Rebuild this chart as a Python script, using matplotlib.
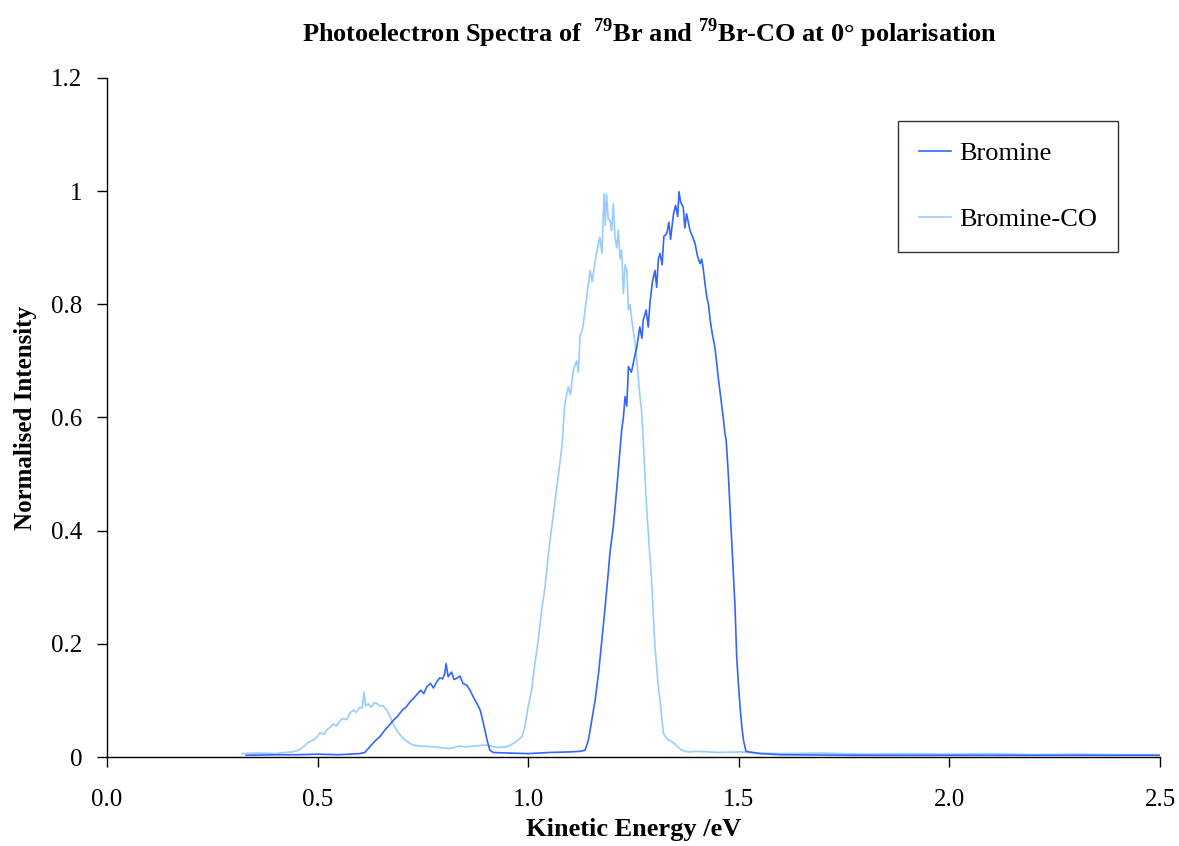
# plot the photoelectron spectra for Br and Br-CO at 0 deg polarisation
# values

import numpy as np
import matplotlib
matplotlib.use('Agg')
import matplotlib.pyplot as plt


# bromine spectrum -- kinetic energy (eV) and normalised intensity
br_energy = [0.33, 0.40, 0.45, 0.50, 0.55, 0.60, 0.612, 0.624, 0.636, 0.648,
             0.66, 0.67, 0.68, 0.69, 0.70, 0.711, 0.72, 0.728, 0.735, 0.745,
             0.752, 0.759, 0.768, 0.775, 0.783, 0.79, 0.797, 0.802, 0.805, 0.81,
             0.818, 0.824, 0.83, 0.838, 0.845, 0.854, 0.862, 0.869, 0.878, 0.886,
             0.892, 0.897, 0.903, 0.909, 0.917, 0.95, 1.00, 1.05, 1.10, 1.123,
             1.135, 1.143, 1.151, 1.159, 1.167, 1.174, 1.182, 1.19, 1.194, 1.202,
             1.21, 1.216, 1.222, 1.226, 1.23, 1.234, 1.238, 1.245, 1.252, 1.258,
             1.265, 1.27, 1.273, 1.28, 1.285, 1.289, 1.295, 1.301, 1.305, 1.309,
             1.313, 1.318, 1.322, 1.329, 1.334, 1.338, 1.345, 1.35, 1.355, 1.358,
             1.362, 1.368, 1.372, 1.376, 1.384, 1.39, 1.396, 1.402, 1.408, 1.412,
             1.416, 1.42, 1.424, 1.428, 1.432, 1.437, 1.443, 1.447, 1.451, 1.455,
             1.459, 1.463, 1.467, 1.47, 1.475, 1.479, 1.483, 1.487, 1.491, 1.495,
             1.499, 1.503, 1.507, 1.511, 1.517, 1.55, 1.6, 1.8, 2.0, 2.2, 2.5]
br_intensity = [0.003, 0.004, 0.004, 0.005, 0.004, 0.006, 0.008, 0.018, 0.028, 0.036,
                0.048, 0.056, 0.065, 0.072, 0.082, 0.089, 0.098, 0.104, 0.110, 0.118,
                0.112, 0.124, 0.130, 0.122, 0.133, 0.140, 0.138, 0.148, 0.165, 0.142,
                0.150, 0.137, 0.139, 0.143, 0.130, 0.127, 0.118, 0.107, 0.095, 0.083,
                0.065, 0.048, 0.028, 0.012, 0.008, 0.007, 0.006, 0.008, 0.009, 0.010,
                0.012, 0.030, 0.065, 0.101, 0.148, 0.201, 0.260, 0.325, 0.360, 0.407,
                0.472, 0.525, 0.578, 0.600, 0.637, 0.620, 0.690, 0.680, 0.705, 0.725,
                0.760, 0.740, 0.772, 0.790, 0.760, 0.802, 0.840, 0.860, 0.830, 0.880,
                0.890, 0.870, 0.920, 0.925, 0.945, 0.915, 0.960, 0.975, 0.955, 0.999,
                0.980, 0.972, 0.935, 0.960, 0.931, 0.920, 0.908, 0.885, 0.872, 0.880,
                0.860, 0.835, 0.813, 0.800, 0.772, 0.748, 0.725, 0.700, 0.672, 0.648,
                0.625, 0.600, 0.572, 0.560, 0.501, 0.442, 0.383, 0.325, 0.266, 0.177,
                0.130, 0.089, 0.055, 0.030, 0.010, 0.006, 0.004, 0.003, 0.003, 0.003, 0.003]

# bromine-CO complex spectrum
co_energy = [0.32, 0.36, 0.40, 0.42, 0.44, 0.455, 0.466, 0.478, 0.49, 0.498,
             0.506, 0.515, 0.522, 0.529, 0.537, 0.545, 0.553, 0.561, 0.569, 0.577,
             0.585, 0.592, 0.60, 0.606, 0.61, 0.614, 0.62, 0.628, 0.634, 0.64,
             0.648, 0.655, 0.664, 0.67, 0.676, 0.682, 0.688, 0.695, 0.703, 0.715,
             0.727, 0.75, 0.775, 0.80, 0.815, 0.835, 0.854, 0.88, 0.901, 0.925,
             0.949, 0.965, 0.975, 0.985, 0.992, 1.00, 1.008, 1.016, 1.024, 1.032,
             1.04, 1.048, 1.056, 1.064, 1.071, 1.08, 1.087, 1.095, 1.10, 1.107,
             1.115, 1.119, 1.123, 1.13, 1.135, 1.14, 1.147, 1.152, 1.159, 1.165,
             1.17, 1.175, 1.18, 1.183, 1.186, 1.19, 1.194, 1.198, 1.202, 1.206,
             1.21, 1.214, 1.218, 1.222, 1.226, 1.23, 1.234, 1.238, 1.242, 1.246,
             1.25, 1.254, 1.258, 1.261, 1.265, 1.269, 1.273, 1.277, 1.281, 1.287,
             1.293, 1.297, 1.301, 1.305, 1.309, 1.313, 1.317, 1.321, 1.33, 1.345,
             1.355, 1.364, 1.38, 1.40, 1.45, 1.50, 1.55, 1.60, 1.70, 1.80,
             1.90, 2.00, 2.10, 2.20, 2.30, 2.40, 2.50]
co_intensity = [0.006, 0.007, 0.006, 0.008, 0.009, 0.012, 0.018, 0.026, 0.030, 0.035,
                0.043, 0.040, 0.048, 0.052, 0.058, 0.055, 0.064, 0.068, 0.066, 0.078,
                0.083, 0.079, 0.088, 0.086, 0.115, 0.090, 0.094, 0.088, 0.096, 0.095,
                0.090, 0.091, 0.083, 0.075, 0.065, 0.055, 0.047, 0.040, 0.033, 0.026,
                0.021, 0.019, 0.018, 0.016, 0.015, 0.019, 0.018, 0.020, 0.021, 0.017,
                0.018, 0.024, 0.030, 0.036, 0.053, 0.089, 0.118, 0.166, 0.207, 0.260,
                0.301, 0.360, 0.407, 0.454, 0.495, 0.548, 0.625, 0.654, 0.640, 0.684,
                0.700, 0.680, 0.743, 0.760, 0.790, 0.820, 0.860, 0.840, 0.878, 0.900,
                0.919, 0.890, 0.996, 0.940, 0.995, 0.950, 0.949, 0.930, 0.978, 0.919,
                0.900, 0.931, 0.880, 0.896, 0.819, 0.870, 0.860, 0.790, 0.800, 0.772,
                0.750, 0.731, 0.700, 0.672, 0.640, 0.613, 0.560, 0.500, 0.442, 0.375,
                0.313, 0.250, 0.195, 0.160, 0.124, 0.101, 0.070, 0.042, 0.032, 0.025,
                0.018, 0.012, 0.009, 0.010, 0.008, 0.009, 0.007, 0.006, 0.007, 0.005,
                0.006, 0.005, 0.006, 0.004, 0.005, 0.004, 0.004]

xticks = [0.0, 0.5, 1.0, 1.5, 2.0, 2.5]
yticks = [0, 0.2, 0.4, 0.6, 0.8, 1.0, 1.2]
ytick_labels = ['0', '0.2', '0.4', '0.6', '0.8', '1', '1.2']

# fonts -- times-like serif everywhere
plt.rcParams['font.family'] = 'Liberation Serif'
plt.rcParams['mathtext.fontset'] = 'custom'
plt.rcParams['mathtext.rm'] = 'Liberation Serif:bold'
plt.rcParams['mathtext.bf'] = 'Liberation Serif:bold'

fig = plt.figure(figsize=(11.79, 8.46), dpi=100, facecolor='w')
ax = fig.add_axes([107/1179, 1 - 757/846, 1053/1179, 679/846])

# draw CO first so the bromine trace sits on top
ax.plot(co_energy, co_intensity, color='#99CCFF', lw=1.2, label='Bromine-CO', zorder=2)
ax.plot(br_energy, br_intensity, color='#3366FF', lw=1.2, label='Bromine', zorder=3)

ax.set_xlim(0, 2.5)
ax.set_ylim(0, 1.2)
ax.set_xticks(xticks)
ax.set_xticklabels(['%.1f' % t for t in xticks])
ax.set_yticks(yticks)
ax.set_yticklabels(ytick_labels)
ax.tick_params(direction='out', length=7, width=1, labelsize=18, colors='k')
ax.tick_params(axis='x', pad=16)
ax.tick_params(axis='y', pad=11)

for side in ['top', 'right']:
    ax.spines[side].set_visible(False)
for side in ['left', 'bottom']:
    ax.spines[side].set_linewidth(1.0)

ax.set_xlabel('Kinetic Energy /eV', fontsize=19, fontweight='bold', labelpad=5)
ax.set_ylabel('Normalised Intensity', fontsize=18, fontweight='bold', labelpad=10)
fig.text(0.551, 0.961, r'Photoelectron Spectra of  $^{79}$Br and $^{79}$Br-CO at 0° polarisation',
         ha='center', va='center', fontsize=19, fontweight='bold')

# legend -- bromine listed first
handles, labels = ax.get_legend_handles_labels()
leg = ax.legend(handles[::-1], labels[::-1], loc='upper right', bbox_to_anchor=(0.960, 0.937),
                borderaxespad=0, fontsize=19, frameon=True, fancybox=False,
                edgecolor='k', handlelength=1.2, handletextpad=0.3,
                labelspacing=1.6, borderpad=0.8)
leg.get_frame().set_linewidth(1.0)

plt.savefig('out.png', dpi=100, facecolor='w')
